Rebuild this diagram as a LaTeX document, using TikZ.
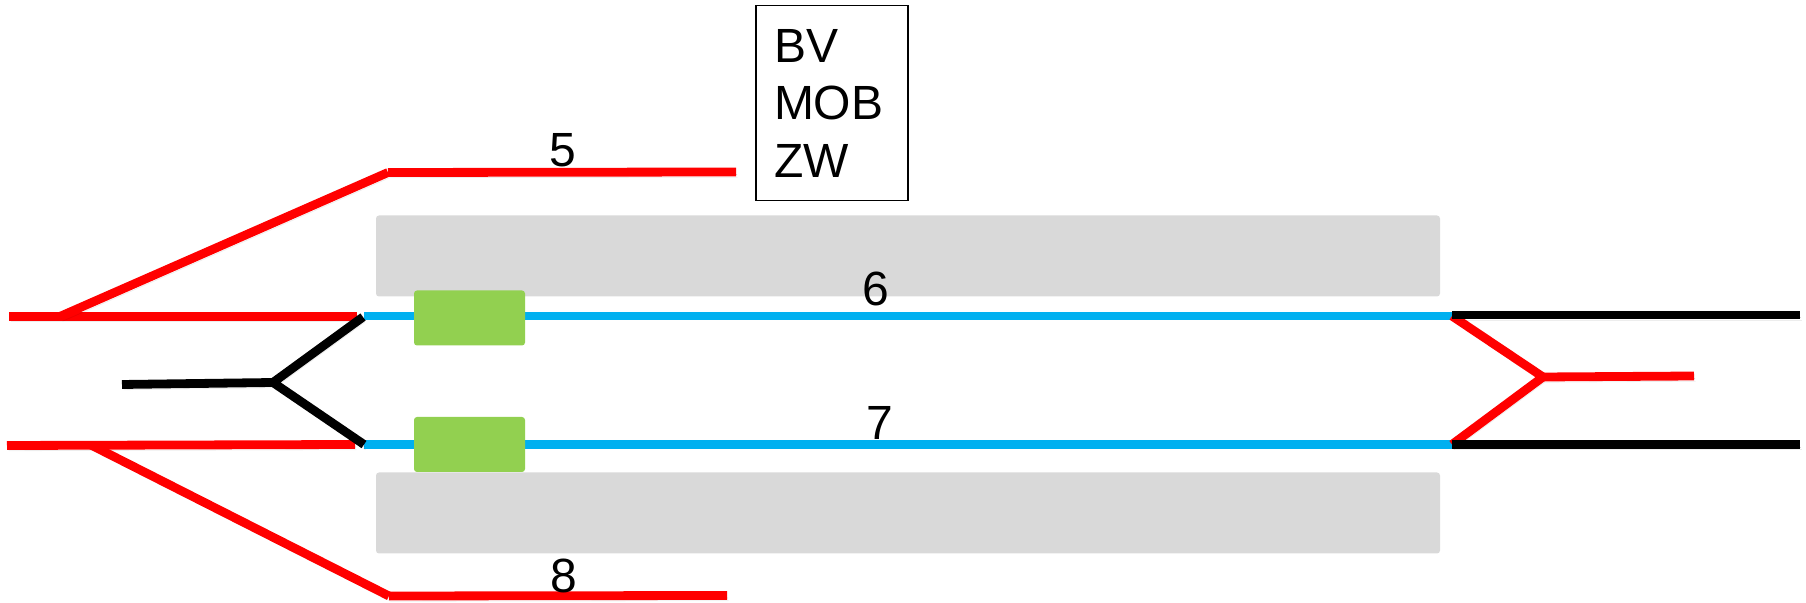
\documentclass[tikz,border=0pt]{standalone}
\usepackage{xcolor}
\usepackage{fontspec}
\setmainfont{Liberation Sans}
\usetikzlibrary{positioning}
\definecolor{trackred}{RGB}{255, 0, 0}
\definecolor{trackblue}{RGB}{0, 176, 240}
\definecolor{platgrey}{RGB}{217, 217, 217}
\definecolor{signalgreen}{RGB}{146, 208, 80}

\begin{document}
\begin{tikzpicture}[
        x=0.5pt, y=-0.5pt,
        font=\fontsize{24}{28.75}\selectfont,
        rail/.style={line width=4.4pt,
            preaction={draw=black, opacity=.07, transform canvas={xshift=.8pt, yshift=-2.6pt}},
            preaction={draw=black, opacity=.16, transform canvas={xshift=.5pt, yshift=-1.3pt}}},
        redrail/.style={rail, draw=trackred},
        blackrail/.style={rail, draw=black},
        bluerail/.style={line width=4.4pt, draw=trackblue},
        platform/.style={fill=platgrey, rounded corners=1.5pt, minimum width=532pt, minimum height=40.5pt, inner sep=0pt},
        stopbox/.style={fill=signalgreen, rounded corners=1.5pt, minimum width=55.5pt, minimum height=27.5pt, inner sep=0pt},
        number/.style={inner sep=0pt}
    ]
        \useasboundingbox (0,0) rectangle (1806,603);

        % Platforms
        \node[platform] (platTop) at (908,256) {};
        \node[platform] (platBot) at (908,513) {};

        % Points on the tracks
        \coordinate (a1) at (9,316.5);
        \coordinate (a2) at (357,316.5);
        \coordinate (a3) at (61,316);
        \coordinate (a4) at (388,172.5);
        \coordinate (a5) at (736,172);
        \coordinate (b1) at (7,445.5);
        \coordinate (b2) at (355,444.5);
        \coordinate (b3) at (91,445);
        \coordinate (b4) at (389,596);
        \coordinate (b5) at (727,595.5);
        \coordinate (c1) at (122,384.5);
        \coordinate (c2) at (273,382.5);
        \coordinate (c3) at (363,317);
        \coordinate (c4) at (364,444.5);
        \coordinate (d1) at (364,316);
        \coordinate (d2) at (1452,316);
        \coordinate (d3) at (364,444.5);
        \coordinate (d4) at (1452,444.5);
        \coordinate (e1) at (1800,315);
        \coordinate (e2) at (1800,444.5);
        \coordinate (f1) at (1543,377);
        \coordinate (f2) at (1694,376);

        % Blue tracks
        \draw[bluerail] (d1) -- (d2);
        \draw[bluerail] (d3) -- (d4);

        % Green boxes
        \node[stopbox] (stopTop) at (469.5,318) {};
        \node[stopbox] (stopBot) at (469.5,444.5) {};

        % Red tracks on the left
        \draw[redrail] (a1) -- (a2);
        \draw[redrail] (a3) -- (a4);
        \draw[redrail] (a4) -- (a5);
        \draw[redrail] (b1) -- (b2);
        \draw[redrail] (b3) -- (b4);
        \draw[redrail] (b4) -- (b5);

        % Black fork on the left
        \draw[blackrail] (c1) -- (c2);
        \draw[blackrail] (c3) -- (c2) -- (c4);

        % Red fork on the right
        \draw[redrail] (d2) -- (f1) -- (d4);
        \draw[redrail] (f1) -- (f2);

        % Black tracks on the right
        \draw[blackrail] (d2 |- e1) -- (e1);
        \draw[blackrail] (d4) -- (e2);

        % Track numbers
        \node[number] (five) at (563,150.5) {5};
        \node[number] (six) at (876,288.5) {6};
        \node[number] (seven) at (880,423) {7};
        \node[number] (eight) at (564,575.5) {8};

        % Legend
        \node[draw, line width=.8pt, minimum width=76pt, minimum height=97.5pt, text width=58pt, inner sep=0pt, align=left] (legend) at (832,103) {BV\\MOB\\ZW};

    \end{tikzpicture}
\end{document}
